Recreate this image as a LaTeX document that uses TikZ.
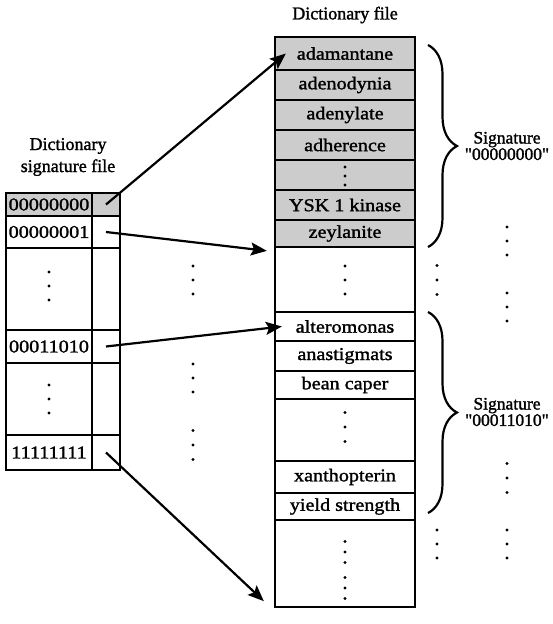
\documentclass[tikz,border=0pt]{standalone}
\usepackage{fontspec}
\setmainfont{Liberation Serif}[Ligatures=TeXOff, FakeBold=1.5]
\newfontfamily\widefont{Liberation Serif}[Ligatures=TeXOff, FakeStretch=1.12, FakeBold=1.5]
\usetikzlibrary{arrows.meta, decorations.pathreplacing, calc}
\tikzset{
  cell/.style ={rectangle, draw=black, line width=2.3pt, inner sep=0pt,
                align=center, font=\widefont\fontsize{18}{20}\selectfont},
  ptr/.style  ={-{Stealth[length=16pt, width=13pt, inset=3pt]}, line width=2.2pt},
  brc/.style  ={decorate, decoration={brace, amplitude=29pt}, line width=2.2pt},
  sig/.style  ={align=center, font=\fontsize{17.5}{15}\selectfont},
  ttl/.style  ={align=center, font=\fontsize{18}{22}\selectfont}
}
% three dots in a column: x, y of the middle dot, gap
\newcommand{\vdts}[3]{%
  \foreach \k in {-1,0,1} \fill ({#1},{#2+\k*#3}) circle (1.7);}

\begin{document}
\begin{tikzpicture}[x=1pt, y=-1pt]
\useasboundingbox (0,0) rectangle (553,624);

% Titles
\node[ttl] (ttlsig)  at (68,157) {Dictionary\\signature file};
\node[ttl] (ttldict) at (345,15) {Dictionary file};

% Dictionary signature file (key cell + pointer cell)
\foreach \n/\t/\b/\txt/\fc in {1/193/216/00000000/black!20, 2/216/248/00000001/white,
    3/248/330/{}/white, 4/330/363/00011010/white, 5/363/435/{}/white,
    6/435/470/11111111/white}{
  \node[cell, fill=\fc, minimum width=86, minimum height={\b-\t}] (k\n) at (49,{(\t+\b)/2}) {\txt};
  \node[cell, fill=\fc, minimum width=28, minimum height={\b-\t}] (p\n) at (106,{(\t+\b)/2}) {};
}

% Dictionary file
\foreach \n/\t/\b/\txt/\fc in {w1/37/70/adamantane/black!20, w2/70/100/adenodynia/black!20,
    w3/100/130/adenylate/black!20, w4/130/160/adherence/black!20, w5/160/190/{}/black!20,
    w6/190/220/YSK 1 kinase/black!20, w7/220/247/zeylanite/black!20,
    w8/247/312/{}/white, a1/312/341/alteromonas/white, a2/341/371/anastigmats/white,
    a3/371/399/bean caper/white, a4/399/461/{}/white, x1/461/493/xanthopterin/white,
    x2/493/520/yield strength/white, wz/520/607/{}/white}{
  \node[cell, fill=\fc, minimum width=140, minimum height={\b-\t}] (\n) at (345,{(\t+\b)/2}) {\txt};
}

% Dots
\vdts{49}{286}{14} \vdts{49}{399}{14}
\vdts{193}{280}{14} \vdts{193}{378}{14} \vdts{193}{445}{14.5}
\vdts{345}{176}{9} \vdts{345}{280}{14} \vdts{345}{427}{14.5}
\vdts{345}{552}{10.5} \vdts{345}{588}{10.5}
\vdts{437}{280}{14.5} \vdts{437}{544}{14}
\vdts{507}{241}{14} \vdts{507}{307}{14} \vdts{507}{478}{14.5} \vdts{507}{544}{14}

% Pointers
\draw[ptr] (p1.center) -- ([xshift=12pt]w1.west);
\draw[ptr] (p2.center) -- ([shift={(-7pt,-5pt)}]w8.north west);
\draw[ptr] (p4.center) -- ([xshift=8pt]a1.west);
\draw[ptr] (p6.center) -- ([shift={(-10pt,7pt)}]wz.south west);

% Signature groups
\draw[brc] (428,45) -- (428,247);
\node[sig] (sig1) at (507,146) {Signature\\"00000000"};
\draw[brc] (428,312) -- (428,513);
\node[sig] (sig2) at (507,412) {Signature\\"00011010"};
\end{tikzpicture}
\end{document}
